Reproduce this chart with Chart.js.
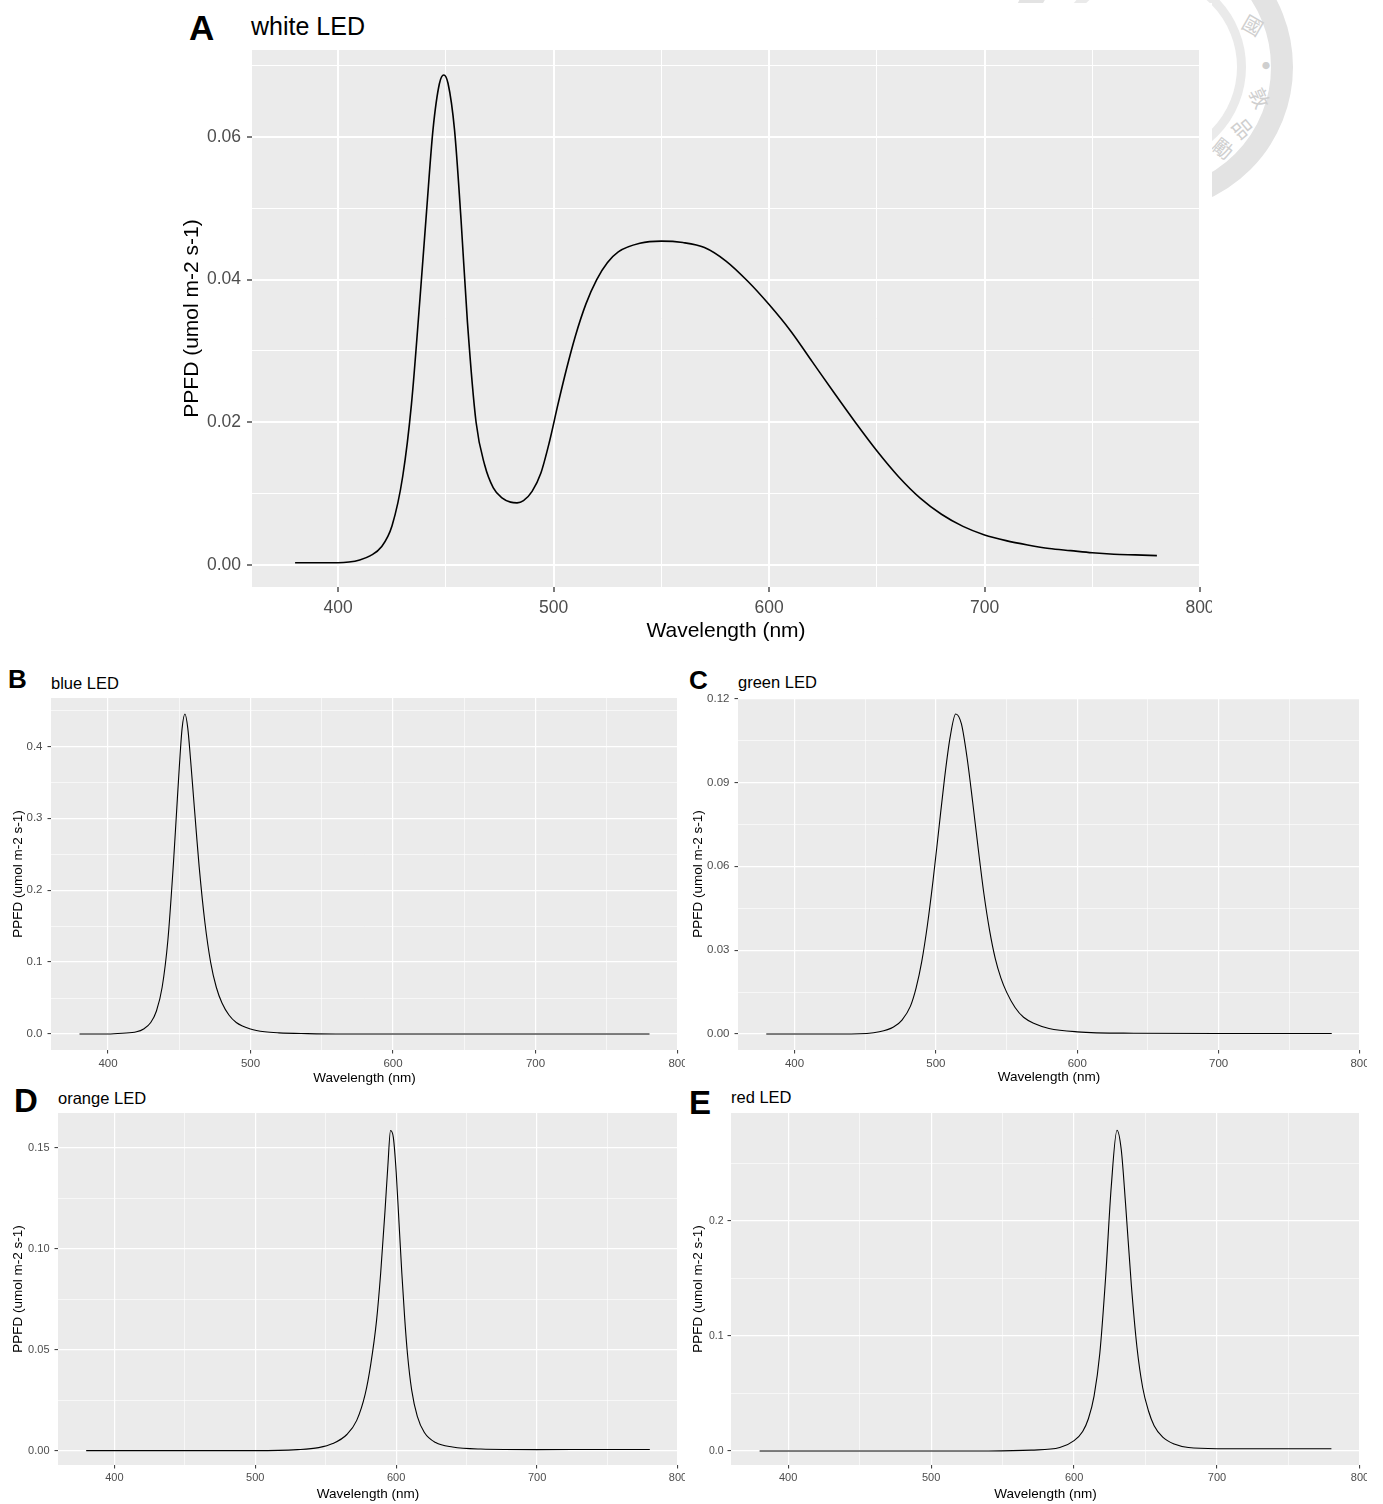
<!DOCTYPE html>
<html>
<head>
<meta charset="utf-8">
<script src="https://cdn.jsdelivr.net/npm/chart.js@4.4.1/dist/chart.umd.min.js"></script>
<style>
  body { margin: 0; background: #fff; width: 1383px; height: 1504px; position: relative; overflow: hidden;
         font-family: "Liberation Sans", Arial, sans-serif; }
  canvas { position: absolute; }
  .tag { position: absolute; font-weight: bold; line-height: 1; color: #000; white-space: nowrap; }
  .ttl { position: absolute; line-height: 1; color: #000; white-space: nowrap; }
  /* faint university seal peeking out behind panel A */
  .seal { position: absolute; border-radius: 50%; box-sizing: border-box; }
  .sealch { position: absolute; font-family: "Noto Sans CJK TC", sans-serif; font-size: 20px; color: #cfcfcf; line-height: 1; }
  .cover { position: absolute; left: 0; top: 3px; width: 1212px; height: 647px; background: #fff; }
</style>
</head>
<body>

<div class="seal" style="left:1003px; top:-78px; width:290px; height:290px; border:22px solid #e3e3e3;"></div>
<div class="seal" style="left:1050px; top:-31px; width:196px; height:196px; border:9px solid #eaeaea;"></div>
<div class="sealch" style="left:1243px; top:15px; transform:rotate(30deg);">國</div>
<div class="sealch" style="left:1262px; top:62px; font-size:8px;">●</div>
<div class="sealch" style="left:1250px; top:88px; transform:rotate(65deg);">敦</div>
<div class="sealch" style="left:1233px; top:118px; transform:rotate(50deg);">品</div>
<div class="sealch" style="left:1213px; top:138px; transform:rotate(38deg);">勵</div>
<div class="cover"></div>

<div class="tag" style="left:189px; top:10px; font-size:35px;">A</div>
<div class="ttl" style="left:251px; top:14px; font-size:25px;">white LED</div>
<div class="tag" style="left:8px; top:666px; font-size:26px;">B</div>
<div class="ttl" style="left:51px; top:675px; font-size:16.5px;">blue LED</div>
<div class="tag" style="left:689px; top:667px; font-size:26px;">C</div>
<div class="ttl" style="left:738px; top:674px; font-size:16.5px;">green LED</div>
<div class="tag" style="left:14px; top:1084px; font-size:33px;">D</div>
<div class="ttl" style="left:58px; top:1090px; font-size:16.5px;">orange LED</div>
<div class="tag" style="left:689px; top:1086px; font-size:33px;">E</div>
<div class="ttl" style="left:731px; top:1089px; font-size:16.5px;">red LED</div>

<script>
// LED emission spectra, PPFD per wavelength

const whiteWl = [380, 390, 400, 405, 410, 415, 420, 425, 430, 434, 438, 441, 444, 447, 449, 451, 454, 457, 460, 464,
                 468, 472, 476, 480, 483, 486, 490, 494, 498, 502, 506, 510, 515, 520, 525, 530, 540, 550, 560, 570, 580,
                 590, 600, 610, 620, 630, 640, 650, 660, 670, 680, 690, 700, 710, 720, 730, 740, 750, 760, 770, 780];
const whitePPFD = [0.0003, 0.0003, 0.0003, 0.0004, 0.0007, 0.0013, 0.0025, 0.0055, 0.0125, 0.0225, 0.0375, 0.0495, 0.0610, 0.0675, 0.0687, 0.0675, 0.0610, 0.0485, 0.0340, 0.0200,
                   0.0140, 0.0108, 0.0094, 0.0088, 0.0087, 0.0090, 0.0103, 0.0128, 0.0172, 0.0225, 0.0275, 0.0320, 0.0366, 0.0400, 0.0424, 0.0439, 0.0451, 0.0454, 0.0452, 0.0445, 0.0426,
                   0.0398, 0.0365, 0.0328, 0.0285, 0.0242, 0.0200, 0.0160, 0.0124, 0.0094, 0.0071, 0.0054, 0.0042, 0.0034, 0.0028, 0.0023, 0.0020, 0.0017, 0.0015, 0.0014, 0.0013];

const blueWl = [380, 400, 410, 420, 425, 430, 434, 438, 442, 446, 448, 450, 452, 454, 456, 458, 460, 462, 464, 468,
                472, 476, 480, 485, 490, 500, 510, 520, 540, 560, 600, 650, 700, 750, 780];
const bluePPFD = [0.000, 0.000, 0.001, 0.003, 0.007, 0.016, 0.032, 0.065, 0.130, 0.240, 0.305, 0.370, 0.425, 0.445, 0.425, 0.380, 0.330, 0.280, 0.232, 0.155,
                  0.100, 0.065, 0.043, 0.026, 0.016, 0.007, 0.003, 0.0015, 0.0005, 0.000, 0.000, 0.000, 0.000, 0.000, 0.000];

const greenWl = [380, 440, 460, 470, 476, 482, 486, 490, 494, 498, 502, 506, 510, 514, 518, 522, 526, 530, 534, 538,
                 542, 546, 550, 556, 562, 570, 580, 600, 640, 700, 780];
const greenPPFD = [0.0000, 0.0000, 0.0008, 0.0025, 0.0050, 0.0100, 0.0165, 0.0260, 0.0390, 0.0550, 0.0730, 0.0910, 0.1060, 0.1145, 0.1110, 0.0990, 0.0830, 0.0660, 0.0500, 0.0370,
                   0.0270, 0.0200, 0.0150, 0.0095, 0.0060, 0.0037, 0.0020, 0.0008, 0.0003, 0.0002, 0.0002];

const orangeWl = [380, 500, 530, 545, 555, 565, 572, 578, 582, 586, 589, 592, 594, 596, 598, 600, 602, 604, 606, 608,
                  611, 615, 620, 628, 640, 660, 700, 750, 780];
const orangePPFD = [0.0000, 0.0000, 0.0005, 0.0015, 0.0035, 0.0080, 0.0150, 0.0280, 0.0430, 0.0640, 0.0880, 0.1180, 0.1400, 0.1585, 0.1550, 0.1380, 0.1130, 0.0880, 0.0660, 0.0480,
                    0.0300, 0.0170, 0.0090, 0.0040, 0.0018, 0.0008, 0.0005, 0.0006, 0.0006];

const redWl = [380, 540, 570, 590, 600, 606, 610, 614, 618, 622, 626, 630, 633, 636, 640, 644, 648, 652, 656, 662,
               670, 680, 700, 780];
const redPPFD = [0.000, 0.000, 0.0007, 0.003, 0.009, 0.017, 0.028, 0.048, 0.085, 0.150, 0.230, 0.279, 0.262, 0.215, 0.145, 0.090, 0.055, 0.035, 0.022, 0.012,
                 0.006, 0.003, 0.002, 0.002];

Chart.defaults.font.family = '"Liberation Sans", Arial, sans-serif';

// ggplot-like grey panel behind the grid
const panelBg = {
  id: 'panelBg',
  beforeDraw(chart) {
    const { ctx, chartArea: a } = chart;
    ctx.save();
    ctx.fillStyle = '#EBEBEB';
    ctx.fillRect(a.left, a.top, a.right - a.left, a.bottom - a.top);
    ctx.restore();
  }
};

function isMajor(v, step) {
  const r = v / step;
  return Math.abs(r - Math.round(r)) < 1e-6;
}

// p.box = canvas [left, top, right, bottom], p.area = grey panel [left, top, right, bottom]
function drawPanel(p) {
  const c = document.createElement('canvas');
  c.width = p.box[2] - p.box[0];
  c.height = p.box[3] - p.box[1];
  c.style.left = p.box[0] + 'px';
  c.style.top = p.box[1] + 'px';
  document.body.appendChild(c);

  const yw = p.area[0] - p.box[0];
  const xh = p.box[3] - p.area[3];

  new Chart(c, {
    type: 'line',
    data: {
      datasets: [{
        data: p.wl.map((x, i) => ({ x: x, y: p.val[i] })),
        borderColor: '#000',
        borderWidth: p.lw,
        pointRadius: 0,
        cubicInterpolationMode: 'monotone',
        fill: false
      }]
    },
    options: {
      responsive: false,
      animation: false,
      events: [],
      layout: { padding: { top: p.area[1] - p.box[1], right: p.box[2] - p.area[2], left: 0, bottom: 0 } },
      plugins: { legend: { display: false }, tooltip: { enabled: false } },
      scales: {
        x: {
          type: 'linear', min: 360, max: 800,
          border: { display: false },
          ticks: {
            stepSize: 50, includeBounds: false, autoSkip: false, maxRotation: 0,
            color: '#4D4D4D', font: { size: p.tick }, padding: p.xpad,
            callback: v => isMajor(v, 100) ? String(v) : ''
          },
          grid: {
            color: '#fff',
            lineWidth: ctx => isMajor(ctx.tick.value, 100) ? p.gw : p.gw / 2,
            tickColor: ctx => isMajor(ctx.tick.value, 100) ? '#333' : 'rgba(0,0,0,0)',
            tickLength: p.tl, tickWidth: p.tw
          },
          title: { display: true, text: 'Wavelength (nm)', color: '#000', font: { size: p.title }, padding: { top: 0, bottom: p.xtp } },
          afterFit: s => { s.height = xh; s.paddingLeft = 0; s.paddingRight = 0; }
        },
        y: {
          type: 'linear', min: p.ymin, max: p.ymax,
          border: { display: false },
          ticks: {
            stepSize: p.ystep / 2, includeBounds: false, autoSkip: false, maxTicksLimit: 30,
            color: '#4D4D4D', font: { size: p.ytick || p.tick }, padding: p.ypad,
            callback: v => isMajor(v, p.ystep) ? v.toFixed(p.dec) : ''
          },
          grid: {
            color: '#fff',
            lineWidth: ctx => isMajor(ctx.tick.value, p.ystep) ? p.gw : p.gw / 2,
            tickColor: ctx => isMajor(ctx.tick.value, p.ystep) ? '#333' : 'rgba(0,0,0,0)',
            tickLength: p.tl, tickWidth: p.tw
          },
          title: { display: true, text: 'PPFD (umol m-2 s-1)', color: '#000', font: { size: p.title }, padding: { top: p.ytp, bottom: 0 } },
          afterFit: s => { s.width = yw; s.paddingTop = 0; s.paddingBottom = 0; }
        }
      }
    },
    plugins: [panelBg]
  });
}

drawPanel({ wl: whiteWl, val: whitePPFD, box: [170, 40, 1212, 650], area: [252, 50, 1200, 587],
  ymin: -0.0031, ymax: 0.0722, ystep: 0.02, dec: 2, lw: 1.6, gw: 2, tl: 5, tw: 1.3,
  tick: 17.5, title: 21, xpad: 6, ypad: 6, xtp: 6, ytp: 10 });

drawPanel({ wl: blueWl, val: bluePPFD, box: [0, 688, 685, 1090], area: [51, 698, 678, 1050],
  ymin: -0.0223, ymax: 0.4673, ystep: 0.1, dec: 1, lw: 1.1, gw: 1.2, tl: 3.5, tw: 1,
  tick: 11.5, title: 13.5, xpad: 3, ypad: 5, xtp: 4, ytp: 10 });

drawPanel({ wl: greenWl, val: greenPPFD, box: [685, 688, 1367, 1090], area: [738, 698, 1360, 1050],
  ymin: -0.0057, ymax: 0.1202, ystep: 0.03, dec: 2, lw: 1.1, gw: 1.2, tl: 3.5, tw: 1,
  tick: 11.5, title: 13.5, xpad: 3, ypad: 5, xtp: 5, ytp: 5 });

drawPanel({ wl: orangeWl, val: orangePPFD, box: [0, 1103, 685, 1504], area: [58, 1113, 678, 1465],
  ymin: -0.0071, ymax: 0.1672, ystep: 0.05, dec: 2, lw: 1.1, gw: 1.2, tl: 3.5, tw: 1,
  tick: 11, title: 13.5, xpad: 3, ypad: 5, xtp: 2, ytp: 10 });

drawPanel({ wl: redWl, val: redPPFD, box: [685, 1103, 1367, 1504], area: [731, 1113, 1360, 1465],
  ymin: -0.0122, ymax: 0.294, ystep: 0.1, dec: 1, lw: 1.1, gw: 1.2, tl: 3.5, tw: 1,
  tick: 11, ytick: 10.5, title: 13.5, xpad: 3, ypad: 4, xtp: 2, ytp: 5 });
</script>
</body>
</html>
